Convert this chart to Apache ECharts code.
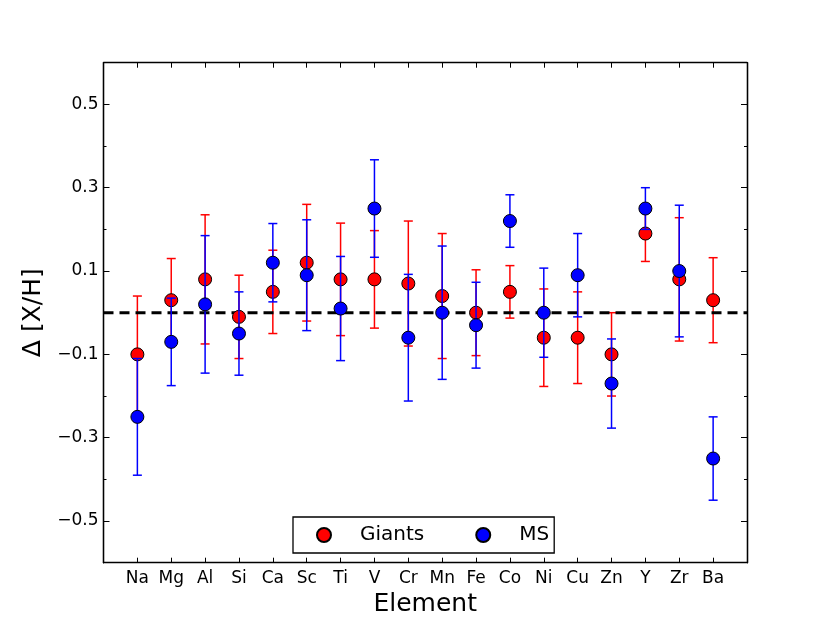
<!DOCTYPE html>
<html>
<head>
<meta charset="utf-8">
<script src="https://cdn.jsdelivr.net/npm/echarts@6/dist/echarts.min.js"></script>
<style>
  html, body { margin: 0; padding: 0; background: #fff; }
  #chart { width: 830px; height: 626px; }
</style>
</head>
<body>
<div id="chart"></div>
<script>
// elements along the x axis
const elements = ['Na', 'Mg', 'Al', 'Si', 'Ca', 'Sc', 'Ti', 'V', 'Cr', 'Mn', 'Fe', 'Co', 'Ni', 'Cu', 'Zn', 'Y', 'Zr', 'Ba'];

// giants: abundance difference and error
const giantVal = [-0.10, 0.03, 0.08, -0.01, 0.05, 0.12, 0.08, 0.08, 0.07, 0.04, 0.00, 0.05, -0.06, -0.06, -0.10, 0.19, 0.08, 0.03];
const giantErr = [0.14, 0.10, 0.155, 0.10, 0.10, 0.14, 0.135, 0.117, 0.15, 0.15, 0.103, 0.063, 0.117, 0.11, 0.10, 0.067, 0.148, 0.102];

// main sequence: abundance difference and error
const msVal = [-0.25, -0.07, 0.02, -0.05, 0.12, 0.09, 0.01, 0.25, -0.06, 0.00, -0.03, 0.22, 0.00, 0.09, -0.17, 0.25, 0.10, -0.35];
const msErr = [0.14, 0.105, 0.165, 0.10, 0.094, 0.133, 0.125, 0.117, 0.152, 0.16, 0.103, 0.063, 0.107, 0.10, 0.107, 0.05, 0.158, 0.10];

// tick positions on the y axis
const yMajor = [-0.5, -0.3, -0.1, 0.1, 0.3, 0.5];
const yMinor = [-0.4, -0.2, 0, 0.2, 0.4];

const font = 'DejaVu Sans';
const chart = echarts.init(document.getElementById('chart'));

function errorSeries(name, vals, errs, color, z) {
  return {
    name: name,
    type: 'custom',
    z: z,
    silent: true,
    data: vals.map((v, i) => [i, v, errs[i]]),
    encode: { x: 0, y: 1 },
    renderItem: function(params, api) {
      const x = api.value(0), y = api.value(1), e = api.value(2);
      const top = api.coord([x, y + e]);
      const bot = api.coord([x, y - e]);
      const style = { stroke: color, lineWidth: 1.5 };
      return {
        type: 'group',
        children: [
          { type: 'line', shape: { x1: top[0], y1: top[1], x2: bot[0], y2: bot[1] }, style: style },
          { type: 'line', shape: { x1: top[0] - 4.5, y1: top[1], x2: top[0] + 4.5, y2: top[1] }, style: style },
          { type: 'line', shape: { x1: bot[0] - 4.5, y1: bot[1], x2: bot[0] + 4.5, y2: bot[1] }, style: style }
        ]
      };
    }
  };
}

function pointSeries(name, vals, color, z) {
  return {
    name: name,
    type: 'scatter',
    z: z,
    symbol: 'circle',
    symbolSize: 13,
    data: vals.map((v, i) => [i, v]),
    itemStyle: { color: color, borderColor: '#000', borderWidth: 1, opacity: 1 }
  };
}

const lineStyle = { color: '#000', width: 1.3 };

function yAx(position, ticks, len, labels) {
  return {
    type: 'value',
    position: position,
    min: -0.6,
    max: 0.6,
    interval: 0.1,
    axisLine: { show: true, onZero: false, lineStyle: lineStyle },
    axisTick: { show: true, inside: true, length: len, customValues: ticks, lineStyle: { color: '#000', width: 1 } },
    axisLabel: labels ? {
      show: true,
      customValues: yMajor,
      margin: 5,
      fontFamily: font,
      fontSize: 17,
      color: '#000',
      formatter: v => v.toFixed(1).replace('-', '\u2212')
    } : { show: false },
    splitLine: { show: false },
    name: labels ? '\u0394 [X/H]' : '',
    nameLocation: 'middle',
    nameGap: 56,
    nameTextStyle: { fontFamily: font, fontSize: 25, color: '#000' }
  };
}

const xTicks = elements.map((_, i) => i);

const option = {
  backgroundColor: '#fff',
  animation: false,
  grid: { left: 103.5, right: 83, top: 62.7, bottom: 63.3 },
  legend: {
    left: 293,
    top: 517,
    data: ['Giants', 'MS'],
    orient: 'horizontal',
    itemWidth: 14,
    itemHeight: 14,
    itemGap: 51,
    padding: [8, 5, 8, 23],
    borderColor: '#000',
    borderWidth: 1.3,
    backgroundColor: '#fff',
    icon: 'circle',
    textStyle: { fontFamily: font, fontSize: 20, color: '#000', padding: [0, 0, 0, 24] }
  },
  xAxis: [
    {
      type: 'value',
      position: 'bottom',
      min: -1,
      max: 18,
      interval: 1,
      axisLine: { show: true, onZero: false, lineStyle: lineStyle },
      axisTick: { show: true, inside: true, length: 5, customValues: xTicks, lineStyle: { color: '#000', width: 1 } },
      axisLabel: {
        show: true,
        customValues: xTicks,
        margin: 7,
        fontFamily: font,
        fontSize: 17,
        color: '#000',
        formatter: v => elements[Math.round(v)] || ''
      },
      splitLine: { show: false },
      name: 'Element',
      nameLocation: 'middle',
      nameGap: 28,
      nameTextStyle: { fontFamily: font, fontSize: 25, color: '#000', verticalAlign: 'top' }
    },
    {
      type: 'value',
      position: 'top',
      min: -1,
      max: 18,
      interval: 1,
      axisLine: { show: true, onZero: false, lineStyle: lineStyle },
      axisTick: { show: true, inside: true, length: 5, customValues: xTicks, lineStyle: { color: '#000', width: 1 } },
      axisLabel: { show: false },
      splitLine: { show: false }
    }
  ],
  yAxis: [
    yAx('left', yMajor, 6, true),
    yAx('left', yMinor, 3, false),
    yAx('right', yMajor, 6, false),
    yAx('right', yMinor, 3, false)
  ],
  series: [
    errorSeries('Giants err', giantVal, giantErr, '#ff0000', 2),
    {
      name: 'zero',
      type: 'line',
      z: 3,
      silent: true,
      symbol: 'none',
      data: [[-1, 0], [18, 0]],
      lineStyle: { color: '#000', width: 3, type: [10, 6] }
    },
    pointSeries('Giants', giantVal, '#ff0000', 4),
    errorSeries('MS err', msVal, msErr, '#0000ff', 5),
    pointSeries('MS', msVal, '#0000ff', 6)
  ]
};

chart.setOption(option);
</script>
</body>
</html>
